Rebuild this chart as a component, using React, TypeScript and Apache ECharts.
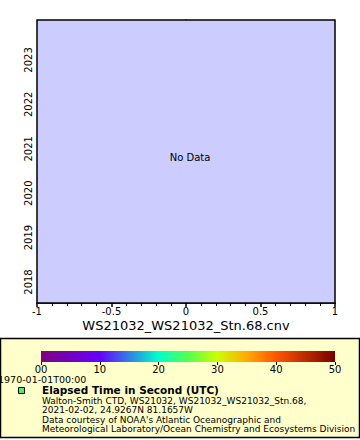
import React, { useEffect, useRef } from "react";
import * as echarts from "echarts";

const yearTicks = [2018, 2019, 2020, 2021, 2022, 2023];
const yRange = [2017.527, 2023.9];
const xRange = [-1, 1];
const stationData: number[][] = []; // no data
const colorbarTicks = [0, 10, 20, 30, 40, 50];
const colorbarLabels = ["00", "10", "20", "30", "40", "50"];
const colorStops = [
  [0, "#800080"],
  [0.2, "#6600ff"],
  [0.4, "#00ffcc"],
  [0.5, "#55ff55"],
  [0.6, "#ccff00"],
  [0.7, "#ffaa00"],
  [0.8, "#ff5500"],
  [1, "#770000"],
];
const xAxisTitle = "WS21032_WS21032_Stn.68.cnv";
const noDataText = "No Data";
const timeLabel = "1970-01-01T00:00";
const legendTitle = "Elapsed Time in Second (UTC)";
const legendLines = [
  "Walton-Smith CTD, WS21032, WS21032_WS21032_Stn.68,",
  "2021-02-02, 24.9267N 81.1657W",
  "Data courtesy of NOAA's Atlantic Oceanographic and",
  "Meteorological Laboratory/Ocean Chemistry and Ecosystems Division",
];

const FONT = "DejaVu Sans";

export default function App() {
  const ref = useRef<HTMLDivElement>(null);
  useEffect(() => {
    const chart = echarts.init(ref.current!, null, { renderer: "svg" });
    const option: any = {
      animation: false,
      backgroundColor: "#ffffff",
      textStyle: { fontFamily: FONT },
      grid: [
        {
          left: 37,
          top: 20,
          width: 298,
          height: 283,
          show: true,
          backgroundColor: "#ccccff",
          borderColor: "#000",
          borderWidth: 1.5,
          z: 2,
        },
        {
          left: 41,
          top: 351,
          width: 294,
          height: 11,
          show: true,
          borderWidth: 0,
          backgroundColor: new echarts.graphic.LinearGradient(
            0, 0, 1, 0,
            colorStops.map(([o, c]) => ({ offset: o as number, color: c as string }))
          ),
          z: 5,
        },
      ],
      xAxis: [
        {
          gridIndex: 0,
          type: "value",
          min: xRange[0],
          max: xRange[1],
          interval: 0.5,
          axisLine: { lineStyle: { color: "#000", width: 1.5 } },
          axisTick: { show: true, length: 4, lineStyle: { color: "#000", width: 1.5 } },
          minorTick: { show: true, splitNumber: 5, length: 3, lineStyle: { color: "#000", width: 1 } },
          axisLabel: { fontFamily: FONT, fontSize: 10, color: "#000", margin: 3,
            formatter: (v: number) => String(v) },
          splitLine: { show: false },
        },
        {
          gridIndex: 1,
          type: "value",
          min: 0,
          max: 50,
          interval: 10,
          axisLine: { show: false },
          axisTick: { show: true, length: 3, lineStyle: { color: "#000", width: 1 } },
          axisLabel: {
            fontFamily: FONT, fontSize: 10, color: "#000", margin: 2,
            formatter: (v: number) => colorbarLabels[colorbarTicks.indexOf(v)] ?? String(v),
          },
          splitLine: { show: false },
        },
      ],
      yAxis: [
        {
          gridIndex: 0,
          type: "value",
          min: yRange[0],
          max: yRange[1],
          axisLine: { lineStyle: { color: "#000", width: 1.5 } },
          axisTick: { show: true, length: 4, lineStyle: { color: "#000", width: 1.5 }, customValues: yearTicks },
          axisLabel: {
            fontFamily: FONT, fontSize: 10, color: "#000", rotate: 90, margin: 4,
            customValues: yearTicks, formatter: (v: number) => String(v),
          },
          splitLine: { show: false },
        },
        {
          gridIndex: 1,
          type: "value",
          show: false,
          min: 0,
          max: 1,
        },
      ],
      series: stationData.length
        ? [{ type: "scatter", xAxisIndex: 0, yAxisIndex: 0, data: stationData }]
        : [],
      graphic: [
        {
          type: "rect",
          z: -10,
          shape: { x: 0.5, y: 338.5, width: 359, height: 99 },
          style: { fill: "#ffffcc", stroke: "#000", lineWidth: 1.5 },
        },
        {
          type: "text",
          z: 10,
          x: 186,
          y: 325,
          style: { text: xAxisTitle, fill: "#000", font: `13px "${FONT}"`, align: "center", verticalAlign: "middle" },
        },
        {
          type: "text",
          z: 10,
          x: 190,
          y: 157,
          style: { text: noDataText, fill: "#000", font: `10px "${FONT}"`, align: "center", verticalAlign: "middle" },
        },
        {
          type: "text",
          z: 10,
          x: -2,
          y: 379,
          style: { text: timeLabel, fill: "#000", font: `9.5px "${FONT}"`, align: "left", verticalAlign: "middle" },
        },
        {
          type: "rect",
          z: 10,
          shape: { x: 18.5, y: 387.5, width: 6, height: 6 },
          style: { fill: "#55ee55", stroke: "#000", lineWidth: 1 },
        },
        {
          type: "text",
          z: 10,
          x: 42,
          y: 390,
          style: { text: legendTitle, fill: "#000", font: `bold 10.5px "${FONT}"`, align: "left", verticalAlign: "middle" },
        },
        ...legendLines.map((t, i) => ({
          type: "text",
          z: 10,
          x: 42,
          y: 400.5 + i * 9.6,
          style: { text: t, fill: "#000", font: `9px "${FONT}"`, align: "left", verticalAlign: "middle" },
        })),
        {
          type: "rect",
          z: 100,
          silent: true,
          shape: { x: 150, y: 8, width: 80, height: 10.5 },
          style: { fill: "#ffffff" },
        },
      ],
    };
    chart.setOption(option);
    return () => chart.dispose();
  }, []);
  return <div ref={ref} style={{ width: 360, height: 440, position: "absolute", left: 0, top: 0 }} />;
}
